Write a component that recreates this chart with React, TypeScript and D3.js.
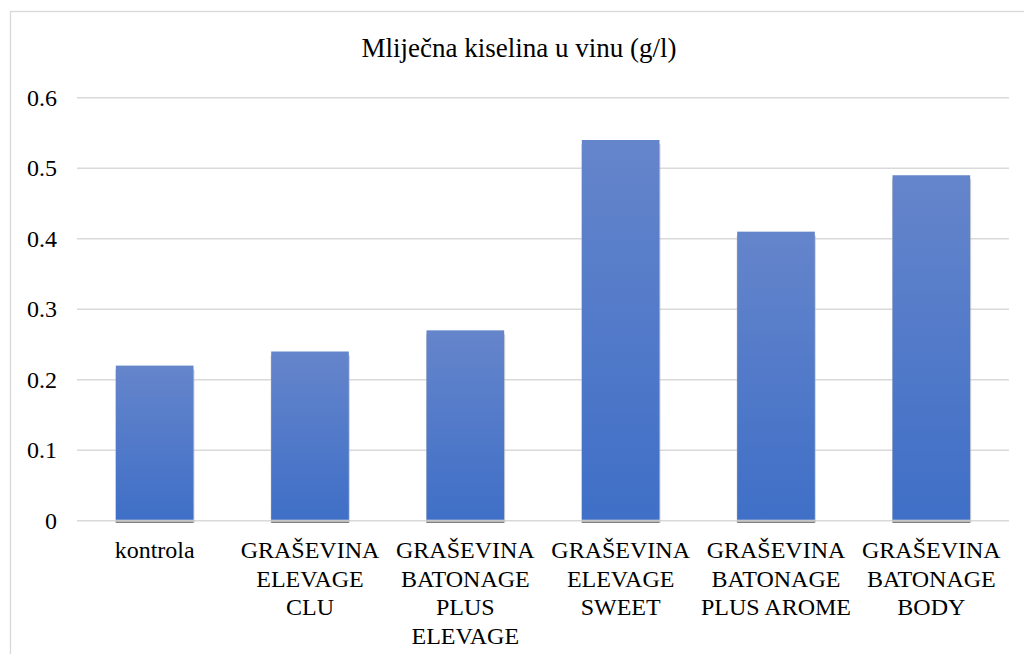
import React from "react";
import * as d3 from "d3";

const categories: string[][] = [
  ["kontrola"],
  ["GRAŠEVINA", "ELEVAGE", "CLU"],
  ["GRAŠEVINA", "BATONAGE", "PLUS", "ELEVAGE"],
  ["GRAŠEVINA", "ELEVAGE", "SWEET"],
  ["GRAŠEVINA", "BATONAGE", "PLUS AROME"],
  ["GRAŠEVINA", "BATONAGE", "BODY"],
];
const values: number[] = [0.22, 0.24, 0.27, 0.54, 0.41, 0.49];
const yTicks: number[] = [0, 0.1, 0.2, 0.3, 0.4, 0.5, 0.6];
const title = "Mliječna kiselina u vinu (g/l)";

const W = 1024;
const H = 654;
const plotLeft = 77;
const plotRight = 1009;
const plotTop = 97.7;
const plotBottom = 520.7;
const font =
  "Liberation Serif, Tinos, Times New Roman, Times, Nimbus Roman, DejaVu Serif, serif";

export default function App() {
  const x = d3
    .scaleBand<number>()
    .domain(d3.range(values.length))
    .range([plotLeft, plotRight])
    .paddingInner(0.5)
    .paddingOuter(0.25);
  const y = d3.scaleLinear().domain([0, 0.6]).range([plotBottom, plotTop]);

  return (
    <svg
      width={W}
      height={H}
      style={{ position: "absolute", left: 0, top: 0, background: "#fff", fontFamily: font }}
    >
      <defs>
        <linearGradient id="barGrad" x1="0" y1="0" x2="0" y2="1">
          <stop offset="0%" stopColor="#6585cb" />
          <stop offset="100%" stopColor="#3f6fc7" />
        </linearGradient>
      </defs>
      <rect width={W} height={H} fill="#fff" />
      <rect
        x={10.5}
        y={11.5}
        width={1030}
        height={660}
        fill="none"
        stroke="#d9d9d9"
        strokeWidth={1.3}
      />
      <text
        x={519}
        y={57}
        textAnchor="middle"
        style={{ fontFamily: font, fontSize: "27px" }}
        fill="#000"
      >
        {title}
      </text>
      {yTicks.map((t) => (
        <g key={t}>
          <line
            x1={plotLeft}
            x2={plotRight}
            y1={y(t)}
            y2={y(t)}
            stroke="#d9d9d9"
            strokeWidth={1.6}
          />
          <text
            x={57}
            y={y(t)}
            dy="0.33em"
            textAnchor="end"
            style={{ fontFamily: font, fontSize: "24px" }}
            fill="#000"
          >
            {d3.format("")(t)}
          </text>
        </g>
      ))}
      {values.map((v, i) => {
        const bx = x(i)!;
        const bw = x.bandwidth();
        return (
          <g key={i}>
            <rect
              x={bx - 0.5}
              y={y(v) + 4}
              width={bw + 1.5}
              height={plotBottom - y(v) - 2}
              fill="#b8b8b8"
              opacity={0.6}
            />
            <rect
              x={bx}
              y={y(v)}
              width={bw}
              height={plotBottom - y(v) - 1}
              fill="url(#barGrad)"
            />
            <line
              x1={bx}
              x2={bx + bw}
              y1={plotBottom + 1.6}
              y2={plotBottom + 1.6}
              stroke="#7f7f7f"
              strokeWidth={1.2}
            />
          </g>
        );
      })}
      {categories.map((lines, i) => (
        <text
          key={i}
          x={x(i)! + x.bandwidth() / 2}
          y={558}
          textAnchor="middle"
          style={{ fontFamily: font, fontSize: "24px" }}
          fill="#000"
        >
          {lines.map((l, j) => (
            <tspan key={j} x={x(i)! + x.bandwidth() / 2} dy={j === 0 ? 0 : 28.5}>
              {l}
            </tspan>
          ))}
        </text>
      ))}
    </svg>
  );
}
